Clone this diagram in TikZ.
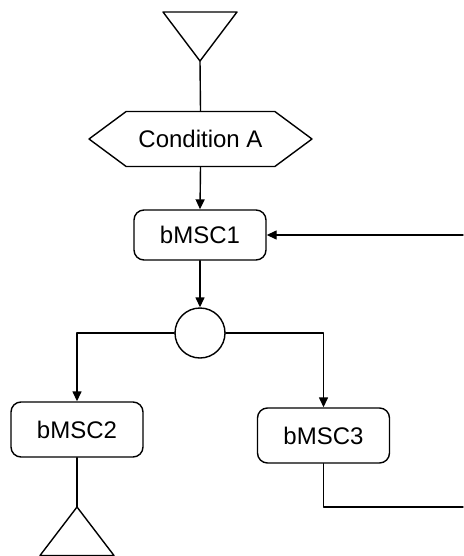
\documentclass[tikz,border=0pt]{standalone}
\usepackage{fontspec}
\setmainfont{Liberation Sans}
\usetikzlibrary{arrows.meta,shapes.symbols}

\tikzset{
  box/.style={draw, rounded corners=5pt, minimum width=66pt, minimum height=27.5pt, inner sep=0pt},
  cond/.style={draw, signal, signal to=east and west, signal pointer angle=73, minimum width=111.5pt, minimum height=27.5pt, inner sep=0pt},
  junction/.style={draw, circle, minimum size=25pt, inner sep=0pt}
}

\begin{document}
\begin{tikzpicture}[line cap=round,line join=round,>={Triangle[length=5pt,width=4.5pt]},x=0.5pt,y=-0.5pt,line width=0.7pt,font=\fontsize{12}{14}\selectfont]
\useasboundingbox (0,0) rectangle (463,556);
% start and end
\draw (163,12) -- (237,12) -- (200,61) -- cycle;
\coordinate (startTip) at (200,61);
\draw (77,507) -- (40,555.5) -- (114,555.5) -- cycle;
\coordinate (endTip) at (77,507);
% nodes
\node[cond] (condA) at (200.5,139) {Condition A};
\node[box, minimum height=25pt] (msc1) at (200,235) {bMSC1};
\node[junction] (alt) at (200,333) {};
\node[box] (msc2) at (77,429.5) {bMSC2};
\node[box] (msc3) at (323.5,435.5) {bMSC3};
\coordinate (loopOut) at (463,507);
\coordinate (loopIn) at (463,235);
% connectors
\draw (startTip) -- (condA.north);
\draw [->] (condA.south) -- (msc1.north);
\draw [->] (msc1.south) -- (alt.north);
\draw [->] (alt.west) -| (msc2.north);
\draw [->] (alt.east) -| (msc3.north);
\draw (msc2.south) -- (endTip);
\draw (msc3.south) |- (loopOut);
\draw [->] (loopIn) -- (msc1.east);
\end{tikzpicture}
\end{document}
